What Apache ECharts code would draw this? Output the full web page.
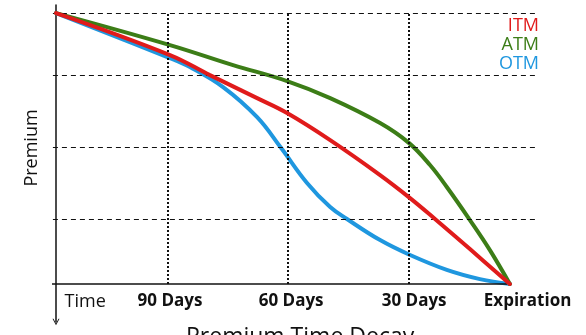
<!DOCTYPE html>
<html>
<head>
<meta charset="utf-8">
<script src="https://cdn.jsdelivr.net/npm/echarts@6/dist/echarts.min.js"></script>
<style>
  html, body { margin: 0; padding: 0; background: #fff; }
  #chart { width: 586px; height: 335px; }
</style>
</head>
<body>
<div id="chart"></div>
<script>
// Time axis runs 0 (start) .. 100 (expiration); premium runs 0 .. 100.
const itmPoints = [[0, 100], [25.1, 84.5], [33.9, 77.1], [44.3, 68.6], [50.9, 63.1], [60.4, 53.1],
                   [71.4, 40.2], [78.0, 31.7], [83.5, 24.0], [91.2, 12.9], [100, 0]];
const atmPoints = [[0, 100], [25.1, 88.2], [39.0, 80.8], [50.9, 74.9], [60.4, 68.6], [71.4, 59.4],
                   [77.8, 52.0], [82.4, 43.9], [86.1, 35.8], [91.2, 23.6], [95.6, 12.5], [100, 0]];
const otmPoints = [[0, 100], [25.1, 83.4], [29.5, 80.1], [36.8, 72.7], [44.3, 61.6], [49.6, 50.2],
                   [55.3, 37.3], [60.4, 28.4], [64.1, 24.0], [71.4, 16.2], [78.0, 10.7], [86.1, 5.2],
                   [93.4, 1.8], [100, 0]];

const seriesNames = ['ITM', 'ATM', 'OTM'];

// Day marks on the time axis and premium reference levels
const dayMarks    = [24.7, 51.1, 77.8];
const levelMarks  = [24, 50.6, 77.1, 100];
const tickLabels  = ['Time', '90 Days', '60 Days', '30 Days', 'Expiration'];
const tickLabelAt = [6.4, 25.1, 51.8, 78.9, 103.9];

const X_MIN = -0.9, X_MAX = 106.2, Y_MAX = 100.4;
const FONT = '"Open Sans", Lato, sans-serif';
const COLORS = { ITM: '#e01b1b', ATM: '#3c7d17', OTM: '#1f97df' };

const chart = echarts.init(document.getElementById('chart'), null, { renderer: 'canvas' });

const guideLines = [];
levelMarks.forEach(v => guideLines.push([
  { coord: [-0.7, v], lineStyle: { type: [5, 4], width: 1, color: '#111' } },
  { coord: [X_MAX, v] }
]));
dayMarks.forEach(t => guideLines.push([
  { coord: [t, 0], lineStyle: { type: [2, 2], width: 2, color: '#111' } },
  { coord: [t, Y_MAX] }
]));
guideLines.push([
  { coord: [X_MIN, 0], lineStyle: { type: 'solid', width: 1.5, color: '#111' } },
  { coord: [99.4, 0] }
]);

const pointSets = { ITM: itmPoints, ATM: atmPoints, OTM: otmPoints };

chart.setOption({
  animation: false,
  backgroundColor: '#fff',
  textStyle: { fontFamily: FONT },
  title: {
    text: 'Premium Time Decay',
    left: 181, top: 321,
    textStyle: { fontFamily: FONT, fontSize: 23, fontWeight: 'normal', color: '#111' }
  },
  legend: {
    orient: 'vertical', right: 42, top: 17, align: 'right', padding: 0,
    itemWidth: 0, itemHeight: 0, itemGap: 1, icon: 'none',
    selectedMode: false,
    data: seriesNames.map(n => ({ name: n, textStyle: { color: COLORS[n] } })),
    textStyle: { fontFamily: FONT, fontSize: 18, padding: 0 }
  },
  grid: [
    { left: 52, right: 48, top: 12, bottom: 51 },
    { left: 56, right: 48, top: 5, bottom: 13 }
  ],
  xAxis: [
    {
      gridIndex: 0, type: 'value', min: X_MIN, max: X_MAX,
      axisLine: { show: false }, axisTick: { show: false }, splitLine: { show: false },
      axisLabel: {
        customValues: tickLabelAt,
        margin: 9,
        formatter: v => {
          const i = tickLabelAt.indexOf(v);
          if (i < 0) return '';
          return i === 0 ? '{n|' + tickLabels[i] + '}' : '{b|' + tickLabels[i] + '}';
        },
        rich: {
          n: { fontFamily: FONT, fontSize: 18, color: '#111' },
          b: { fontFamily: FONT, fontSize: 17, fontWeight: 'bold', color: '#111' }
        }
      }
    },
    { gridIndex: 1, type: 'value', show: false }
  ],
  yAxis: [
    {
      gridIndex: 0, type: 'value', min: 0, max: Y_MAX,
      name: 'Premium', nameLocation: 'middle', nameGap: 11,
      nameTextStyle: { fontFamily: FONT, fontSize: 18, color: '#111' },
      axisLine: { show: false }, axisTick: { show: false },
      axisLabel: { show: false }, splitLine: { show: false }
    },
    {
      gridIndex: 1, type: 'value', min: 0, max: 1,
      axisLine: {
        show: true,
        symbol: ['path://M0,9 L5,0 L10,9 L8.6,9 L5,2.4 L1.4,9 Z', 'none'],
        symbolSize: [7, 8],
        lineStyle: { color: '#111', width: 1.5 }
      },
      axisTick: { show: false }, axisLabel: { show: false }, splitLine: { show: false }
    }
  ],
  series: [
    {
      name: 'guides', type: 'line', xAxisIndex: 0, yAxisIndex: 0,
      data: [[0, 100]], showSymbol: false, symbol: 'none',
      lineStyle: { opacity: 0 }, z: 1,
      markLine: { silent: true, symbol: 'none', label: { show: false }, data: guideLines }
    }
  ].concat(['OTM', 'ATM', 'ITM'].map((n, k) => ({
    name: n, type: 'line', xAxisIndex: 0, yAxisIndex: 0,
    data: pointSets[n], smooth: 0.4, showSymbol: false, symbol: 'none',
    lineStyle: { color: COLORS[n], width: 4, cap: 'round' },
    itemStyle: { color: COLORS[n] },
    z: 3 + k
  })))
});
</script>
</body>
</html>
